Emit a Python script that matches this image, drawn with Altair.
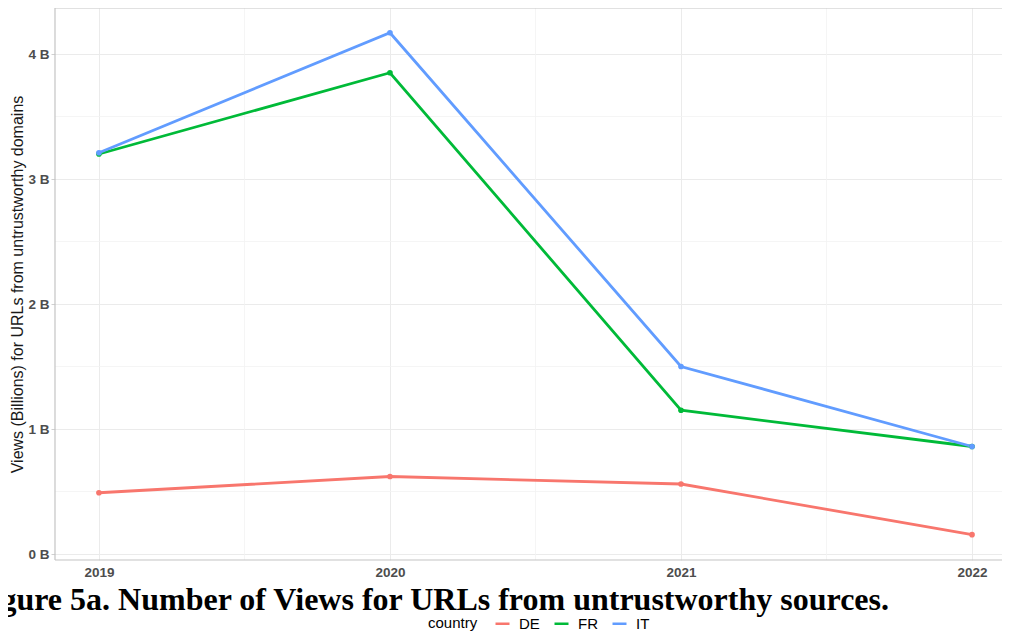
import altair as alt
import pandas as pd

years = [2019, 2020, 2021, 2022]
countries = ["DE", "FR", "IT"]
de_views = [0.49, 0.62, 0.56, 0.155]
fr_views = [3.20, 3.85, 1.15, 0.86]
it_views = [3.21, 4.17, 1.50, 0.86]
colors = ["#F8766D", "#00BA38", "#619CFF"]
y_ticks = [0, 1, 2, 3, 4]
y_minor = [0.5, 1.5, 2.5, 3.5]
x_minor = [2019.5, 2020.5, 2021.5]
caption = "Figure 5a.  Number of Views for URLs from untrustworthy sources."
y_title = "Views (Billions) for URLs from untrustworthy domains"

rows = []
for c, vals in zip(countries, [de_views, fr_views, it_views]):
    for yr, v in zip(years, vals):
        rows.append({"year": yr, "views": v, "country": c})
df = pd.DataFrame(rows)

W, H = 947, 552
xscale = alt.Scale(domain=[2018.849, 2022.103], nice=False, zero=False)
yscale = alt.Scale(domain=[-0.048, 4.368], nice=False, zero=False)
cscale = alt.Scale(domain=countries, range=colors)

legend = alt.Legend(
    orient="none", legendX=373, legendY=607, direction="horizontal",
    title="country", titleOrient="left", titleFont="Liberation Sans",
    titleFontWeight="normal", titleFontSize=15, titleColor="#000000",
    titlePadding=16, labelFont="Liberation Sans", labelFontSize=15,
    labelColor="#000000", symbolType="stroke", symbolSize=196,
    symbolStrokeWidth=2.5, labelOffset=8, columnPadding=9,
)

x_axis = alt.Axis(
    values=years, format="d", title=None, grid=True, gridColor="#ebebeb",
    gridWidth=1, domain=False, ticks=False, labelFont="Liberation Sans",
    labelFontWeight="bold", labelFontSize=13.5, labelColor="#4d4d4d",
    labelPadding=5,
)
y_axis = alt.Axis(
    values=y_ticks, labelExpr="datum.value + ' B'", title=y_title,
    grid=True, gridColor="#ebebeb", gridWidth=1, domain=False,
    ticks=True, tickSize=4, tickColor="#d0d0d0",
    labelFont="Liberation Sans", labelFontWeight="bold",
    labelFontSize=13.5, labelColor="#4d4d4d", labelPadding=2,
    titleFont="Liberation Sans", titleFontWeight="normal",
    titleFontSize=16, titleColor="#1a1a1a", titlePadding=2,
)

minor_y = alt.Chart(pd.DataFrame({"views": y_minor})).mark_rule(
    color="#f2f2f2", strokeWidth=0.8
).encode(y=alt.Y("views:Q", scale=yscale, axis=y_axis))
minor_x = alt.Chart(pd.DataFrame({"year": x_minor})).mark_rule(
    color="#f2f2f2", strokeWidth=0.8
).encode(x=alt.X("year:Q", scale=xscale, axis=x_axis))

lines = alt.Chart(df).mark_line(strokeWidth=2.8).encode(
    x=alt.X("year:Q", scale=xscale, axis=x_axis),
    y=alt.Y("views:Q", scale=yscale, axis=y_axis),
    color=alt.Color("country:N", scale=cscale, legend=legend),
)
points = alt.Chart(df).mark_circle(size=32, opacity=1).encode(
    x=alt.X("year:Q", scale=xscale, axis=x_axis),
    y=alt.Y("views:Q", scale=yscale, axis=y_axis),
    color=alt.Color("country:N", scale=cscale, legend=legend),
)

one = alt.Data(values=[{"t": caption}])
border_top = alt.Chart(one).mark_rule(color="#c4c4c4", strokeWidth=1.2).encode(
    x=alt.value(0), x2=alt.value(W), y=alt.value(0)
)
border_left = alt.Chart(one).mark_rule(color="#c4c4c4", strokeWidth=1.2).encode(
    x=alt.value(0), y=alt.value(0), y2=alt.value(H)
)
border_bottom = alt.Chart(one).mark_rule(color="#c4c4c4", strokeWidth=1.2).encode(
    x=alt.value(0), x2=alt.value(W), y=alt.value(H)
)

cap = alt.Chart(one).mark_text(
    align="left", baseline="alphabetic", font="Liberation Serif",
    fontWeight="bold", fontSize=32, color="#000000",
).encode(x=alt.value(-83), y=alt.value(602), text="t:N")

chart = alt.layer(
    minor_y, minor_x, lines, points, border_top, border_left, border_bottom, cap
).properties(
    width=W, height=H,
    autosize=alt.AutoSizeParams(type="none"),
    padding={"left": 47, "top": 0, "right": 0, "bottom": 71},
    background="white",
).configure_view(stroke=None)

chart.save("out.html", embed_options={"renderer": "svg", "actions": False})
